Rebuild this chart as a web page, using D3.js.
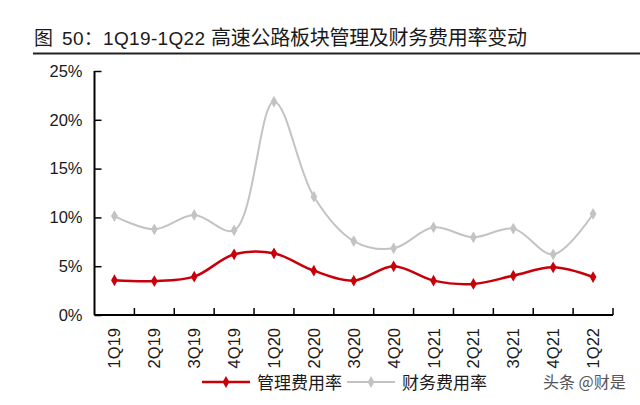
<!DOCTYPE html>
<html><head><meta charset="utf-8">
<script src="https://cdn.jsdelivr.net/npm/d3@7"></script>
<style>body{margin:0;background:#fff}svg{display:block}</style>
</head><body>
<script>
const categories = ["1Q19","2Q19","3Q19","4Q19","1Q20","2Q20","3Q20","4Q20","1Q21","2Q21","3Q21","4Q21","1Q22"];
const mgmtRate = [3.56,3.48,3.93,6.22,6.32,4.54,3.52,4.99,3.52,3.18,4.03,4.88,3.89];
const finRate = [10.14,8.78,10.25,8.68,21.86,12.12,7.58,6.83,8.98,7.96,8.85,6.22,10.35];
const yTicks = [0,5,10,15,20,25];
const seriesNames = ["管理费用率","财务费用率"];

const W=640,H=405;
const svg=d3.select("body").append("svg").attr("width",W).attr("height",H);
const font="'Liberation Sans', Arial, 'Noto Sans CJK SC', sans-serif";
const cjk="'Noto Sans CJK SC', 'Liberation Sans', sans-serif";

// Title
const t=svg.append("text").attr("y",45).attr("fill","#1a1a1a").style("font-family",cjk).attr("font-size",19);
t.append("tspan").attr("x",34).text("图");
t.append("tspan").attr("x",62).style("font-family",font).attr("textLength",143).attr("lengthAdjust","spacing").text("50：1Q19-1Q22");
t.append("tspan").attr("x",211).attr("font-size",20).attr("textLength",316).attr("lengthAdjust","spacing").text("高速公路板块管理及财务费用率变动");
svg.append("line").attr("x1",33).attr("x2",640).attr("y1",53.5).attr("y2",53.5).attr("stroke","#222").attr("stroke-width",2);

const x=d3.scaleBand().domain(categories).range([94.5,613]);
const y=d3.scaleLinear().domain([0,25]).range([315,71]);
const cx=d=>x(d)+x.bandwidth()/2;

// Y axis
const yAxis=svg.append("g").attr("transform","translate(94.5,0)")
  .call(d3.axisRight(y).tickValues(yTicks).tickSize(7).tickFormat(d=>d+"%"));
yAxis.select(".domain").attr("stroke","#000").attr("stroke-width",2).attr("d","M0,71V315");
yAxis.selectAll(".tick line").attr("stroke","#000").attr("stroke-width",1.5);
yAxis.selectAll(".tick text").attr("x",-12).attr("text-anchor","end").attr("font-size",16.5)
  .style("font-family",font).attr("fill","#1a1a1a");

// X axis
const xAxis=svg.append("g").attr("transform","translate(0,315)")
  .call(d3.axisTop(x).tickSize(0).tickFormat(""));
xAxis.select(".domain").attr("stroke","#000").attr("stroke-width",2).attr("d","M94.5,0H613");
xAxis.selectAll(".tick").remove();
const bounds=categories.map(c=>x(c)+x.bandwidth());
svg.append("g").selectAll("line").data(bounds).join("line")
  .attr("x1",d=>d).attr("x2",d=>d).attr("y1",315).attr("y2",308).attr("stroke","#000").attr("stroke-width",1.5);
svg.append("g").selectAll("text").data(categories).join("text")
  .attr("transform",d=>`translate(${cx(d)+6},328) rotate(-90)`)
  .attr("text-anchor","end").attr("font-size",16.5).style("font-family",font).attr("fill","#1a1a1a").text(d=>d);

// Lines
const curve=d3.curveCatmullRom.alpha(0.5);
const series=[{v:finRate,c:"#c3c3c3",w:2},{v:mgmtRate,c:"#c8000a",w:2.5}];
const line=d3.line().x((d,i)=>cx(categories[i])).y(d=>y(d)).curve(curve);
const diamond=d3.symbol().type(d3.symbolDiamond).size(40);
series.forEach(s=>{
  svg.append("path").attr("d",line(s.v)).attr("fill","none").attr("stroke",s.c).attr("stroke-width",s.w);
  svg.append("g").selectAll("path").data(s.v).join("path")
    .attr("d",diamond).attr("transform",(d,i)=>`translate(${cx(categories[i])},${y(d)})`).attr("fill",s.c);
});

// Legend
const leg=[{n:seriesNames[0],c:"#c8000a",x1:202,w:2.5,tx:257},{n:seriesNames[1],c:"#c3c3c3",x1:347,w:2,tx:402}];
leg.forEach(l=>{
  svg.append("line").attr("x1",l.x1).attr("x2",l.x1+48).attr("y1",382).attr("y2",382).attr("stroke",l.c).attr("stroke-width",l.w);
  svg.append("path").attr("d",diamond).attr("transform",`translate(${l.x1+24},382)`).attr("fill",l.c);
  svg.append("text").attr("x",l.tx).attr("y",389).attr("font-size",17).style("font-family",cjk).attr("fill","#1a1a1a").text(l.n);
});
svg.append("text").attr("x",543).attr("y",388).attr("font-size",16).style("font-family",cjk).attr("fill","#555").text("头条 @财是");
</script>
</body></html>
